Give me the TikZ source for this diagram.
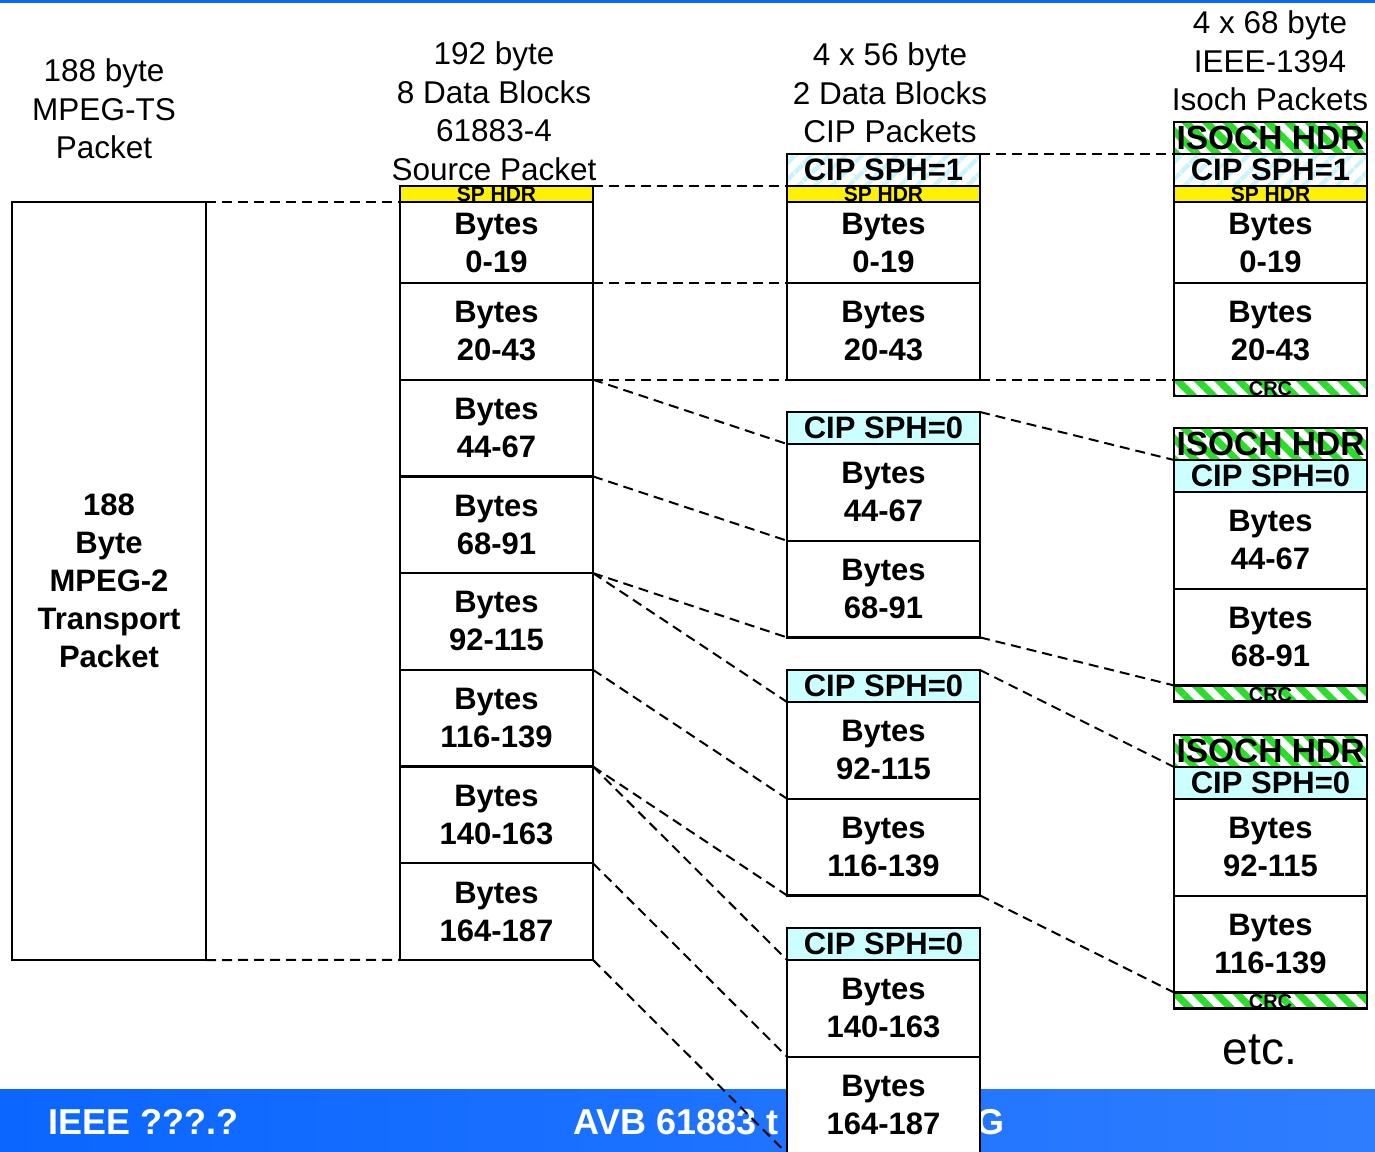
\documentclass[tikz,border=0pt]{standalone}
\usepackage{fontspec}
\setmainfont{Liberation Sans}
\usetikzlibrary{positioning,patterns.meta}

\definecolor{barblue}{RGB}{10,102,255}
\definecolor{cipcyan}{RGB}{204,255,255}
\definecolor{hatchcyan}{RGB}{200,244,252}
\definecolor{isogreen}{RGB}{40,222,40}

\begin{document}
\begin{tikzpicture}[x=1pt, y=-1pt,
  box/.style={draw, line width=2.4pt, outer sep=0pt, inner sep=0pt,
    minimum width=193pt, minimum height=96.7pt, align=center,
    font=\fontsize{31}{38}\selectfont\bfseries},
  blk/.style={box, fill=white},
  firstblk/.style={blk, minimum height=81pt},
  sphdr/.style={box, fill=yellow, minimum height=16pt, text height=15pt,
    text depth=0pt, font=\fontsize{21}{21}\selectfont\bfseries},
  ciphdr/.style={box, fill=cipcyan, minimum height=32pt},
  cipone/.style={box, minimum height=32pt, preaction={fill=white},
    pattern={Lines[angle=45, distance=13pt, line width=5pt]}, pattern color=hatchcyan},
  isohdr/.style={box, minimum height=32pt, preaction={fill=white},
    pattern={Lines[angle=-45, distance=14.5pt, line width=7pt]}, pattern color=isogreen,
    font=\fontsize{33.5}{33.5}\selectfont\bfseries},
  crc/.style={isohdr, minimum height=16pt, text height=16pt, text depth=0pt,
    font=\fontsize{20}{20}\selectfont\bfseries},
  conn/.style={line width=2pt, dash pattern=on 10pt off 6pt},
  hdr/.style={align=center, inner sep=0pt, font=\fontsize{31.5}{38.5}\selectfont},
  bartext/.style={white, inner sep=0pt, anchor=west, font=\fontsize{36}{36}\selectfont\bfseries}
  ]
  \useasboundingbox (0,0) rectangle (1375,1151);

  % --- frame of the slide ---
  \draw[barblue, line width=3pt] (0,1) -- (1375,1);
  \shade[left color=barblue, right color=barblue!85!white] (0,1089) rectangle (1375,1151);
  \node[bartext] (ieee) at (48,1122) {IEEE ???.?};
  \node[bartext] (avb) at (573,1122) {AVB 61883 t};
  \node[bartext] (avbend) at (976,1122) {G};

  % --- column headings ---
  \node[hdr] (hts) at (104,109) {188 byte\\MPEG-TS\\Packet};
  \node[hdr] (hsrc) at (494,111) {192 byte\\8 Data Blocks\\61883-4\\Source Packet};
  \node[hdr] (hcip) at (890,93) {4 x 56 byte\\2 Data Blocks\\CIP Packets};
  \node[hdr] (hiso) at (1270,61) {4 x 68 byte\\IEEE-1394\\Isoch Packets};

  % --- MPEG-2 transport packet ---
  \node[box, minimum width=194pt, minimum height=758pt, anchor=north west] (ts)
    at (12,202) {188\\Byte\\MPEG-2\\Transport\\Packet};

  % --- 61883-4 source packet ---
  \node[sphdr, anchor=north west] (sp) at (400,186) {SP HDR};
  \node[firstblk, below=0pt of sp] (src0) {Bytes\\0-19};
  \foreach \r [count=\i] in {20-43,44-67,68-91,92-115,116-139,140-163,164-187} {
    \pgfmathtruncatemacro{\j}{\i-1}
    \node[blk, below=0pt of src\j] (src\i) {Bytes\\\r};
  }

  % --- CIP packets ---
  \node[cipone, anchor=north west] (cph1) at (787,154) {CIP SPH=1};
  \node[sphdr, below=0pt of cph1] (csp1) {SP HDR};
  \node[firstblk, below=0pt of csp1] (ca1) {Bytes\\0-19};
  \node[blk, below=0pt of ca1] (cb1) {Bytes\\20-43};
  \foreach \n/\y/\ra/\rb in {2/412/44-67/68-91, 3/670/92-115/116-139, 4/928/140-163/164-187} {
    \node[ciphdr, anchor=north west] (cph\n) at (787,\y) {CIP SPH=0};
    \node[blk, below=0pt of cph\n] (ca\n) {Bytes\\\ra};
    \node[blk, below=0pt of ca\n] (cb\n) {Bytes\\\rb};
  }

  % --- IEEE-1394 isoch packets ---
  \node[isohdr, anchor=north west] (ih1) at (1174,122) {ISOCH HDR};
  \node[cipone, below=0pt of ih1] (iph1) {CIP SPH=1};
  \node[sphdr, below=0pt of iph1] (isp1) {SP HDR};
  \node[firstblk, below=0pt of isp1] (ia1) {Bytes\\0-19};
  \node[blk, below=0pt of ia1] (ib1) {Bytes\\20-43};
  \node[crc, below=0pt of ib1] (crc1) {CRC};
  \foreach \n/\y/\ra/\rb in {2/428/44-67/68-91, 3/735/92-115/116-139} {
    \node[isohdr, anchor=north west] (ih\n) at (1174,\y) {ISOCH HDR};
    \node[ciphdr, below=0pt of ih\n] (iph\n) {CIP SPH=0};
    \node[blk, below=0pt of iph\n] (ia\n) {Bytes\\\ra};
    \node[blk, below=0pt of ia\n] (ib\n) {Bytes\\\rb};
    \node[crc, below=0pt of ib\n] (crc\n) {CRC};
  }
  \node[font=\fontsize{46}{46}\selectfont] (etc) at (1260,1050) {etc.};

  % transport packet to source packet
  \draw[conn] (ts.north east) -- (src0.north west);
  \draw[conn] (ts.south east) -- (src7.south west);

  % source packet to CIP packets
  \draw[conn] (sp.north east) -- (csp1.north west);
  \draw[conn] (src0.south east) -- (ca1.south west);
  \draw[conn] (src1.south east) -- (cb1.south west);
  \draw[conn] (src1.south east) -- (ca2.north west);
  \draw[conn] (src2.south east) -- (ca2.south west);
  \draw[conn] (src3.south east) -- (cb2.south west);
  \draw[conn] (src3.south east) -- (ca3.north west);
  \draw[conn] (src4.south east) -- (ca3.south west);
  \draw[conn] (src5.south east) -- (cb3.south west);
  \draw[conn] (src5.south east) -- (ca4.north west);
  \draw[conn] (src6.south east) -- (ca4.south west);
  \draw[conn] (src7.south east) -- (cb4.south west);

  % CIP packets to isoch packets
  \draw[conn] (cph1.north east) -- (iph1.north west);
  \draw[conn] (cb1.south east) -- (crc1.north west);
  \draw[conn] (cph2.north east) -- (iph2.north west);
  \draw[conn] (cb2.south east) -- (crc2.north west);
  \draw[conn] (cph3.north east) -- (iph3.north west);
  \draw[conn] (cb3.south east) -- (crc3.north west);
\end{tikzpicture}
\end{document}
